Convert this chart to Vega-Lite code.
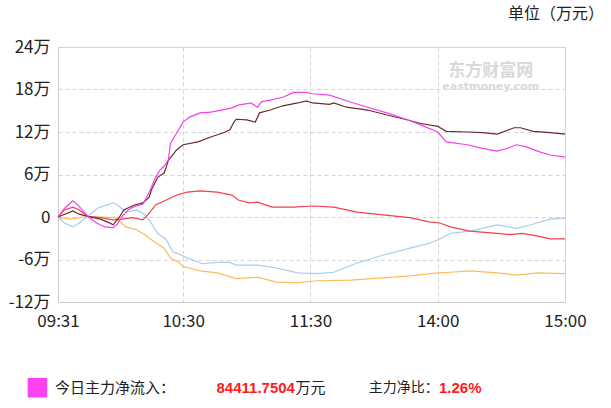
{
  "$schema": "https://vega.github.io/schema/vega-lite/v6.json",
  "width": 507,
  "height": 255,
  "autosize": {"type": "none"},
  "padding": {"left": 58, "top": 47, "right": 46, "bottom": 106},
  "config": {
    "font": "Noto Sans CJK SC",
    "view": {"stroke": "#d6d6d6"},
    "axis": {
      "domainColor": "#cccccc",
      "ticks": false,
      "grid": true,
      "gridColor": "#d4d4d4",
      "gridDash": [4, 3],
      "labelColor": "#222222",
      "labelFontSize": 17,
      "labelPadding": 8,
      "title": null
    }
  },
  "title": {
    "text": "单位（万元）",
    "anchor": "end",
    "frame": "group",
    "dx": 39,
    "offset": 16,
    "fontSize": 16,
    "fontWeight": "normal",
    "color": "#222222"
  },
  "layer": [
    {
      "data": {"values": [{"label": "东方财富网"}]},
      "mark": {"type": "text", "fontSize": 17, "fontWeight": "bold", "color": "#d9d9d9"},
      "encoding": {"x": {"datum": 205}, "y": {"datum": 20.6}, "text": {"field": "label"}}
    },
    {
      "data": {"values": [{"label": "eastmoney.com"}]},
      "mark": {"type": "text", "fontSize": 11, "fontWeight": "bold", "color": "#d9d9d9", "font": "DejaVu Sans"},
      "encoding": {"x": {"datum": 205}, "y": {"datum": 18.3}, "text": {"field": "label"}}
    },
    {
      "data": {"values": [
        {"s":"o","t":1,"v":-0.1},{"s":"o","t":7,"v":-0.3},{"s":"o","t":13,"v":0},{"s":"o","t":21,"v":0},{"s":"o","t":28,"v":-0.1},{"s":"o","t":33,"v":-1.4},{"s":"o","t":38,"v":-1.8},{"s":"o","t":42,"v":-2.5},{"s":"o","t":44,"v":-3.0},{"s":"o","t":48,"v":-3.8},{"s":"o","t":51,"v":-4.4},{"s":"o","t":54,"v":-5.8},{"s":"o","t":58,"v":-6.4},{"s":"o","t":60,"v":-7.0},{"s":"o","t":63,"v":-7.2},{"s":"o","t":68,"v":-7.6},{"s":"o","t":76,"v":-7.9},{"s":"o","t":85,"v":-8.7},{"s":"o","t":95,"v":-8.5},{"s":"o","t":104,"v":-9.2},{"s":"o","t":114,"v":-9.3},{"s":"o","t":123,"v":-9.0},{"s":"o","t":139,"v":-8.9},{"s":"o","t":154,"v":-8.6},{"s":"o","t":167,"v":-8.3},{"s":"o","t":180,"v":-7.9},{"s":"o","t":186,"v":-7.8},{"s":"o","t":195,"v":-7.6},{"s":"o","t":208,"v":-7.9},{"s":"o","t":217,"v":-8.2},{"s":"o","t":227,"v":-7.9},{"s":"o","t":240,"v":-8.0},
        {"s":"l","t":1,"v":0},{"s":"l","t":4,"v":-0.85},{"s":"l","t":8,"v":-1.4},{"s":"l","t":11,"v":-0.85},{"s":"l","t":15,"v":0.1},{"s":"l","t":20,"v":1.3},{"s":"l","t":27,"v":2.0},{"s":"l","t":29,"v":1.7},{"s":"l","t":33,"v":0.7},{"s":"l","t":38,"v":1.0},{"s":"l","t":41,"v":0.55},{"s":"l","t":44,"v":-0.4},{"s":"l","t":48,"v":-2.3},{"s":"l","t":52,"v":-3.2},{"s":"l","t":55,"v":-4.9},{"s":"l","t":57,"v":-5.1},{"s":"l","t":62,"v":-5.8},{"s":"l","t":65,"v":-6.1},{"s":"l","t":69,"v":-6.6},{"s":"l","t":76,"v":-6.4},{"s":"l","t":82,"v":-6.4},{"s":"l","t":85,"v":-6.8},{"s":"l","t":95,"v":-6.8},{"s":"l","t":104,"v":-7.2},{"s":"l","t":114,"v":-7.9},{"s":"l","t":123,"v":-8.0},{"s":"l","t":131,"v":-7.8},{"s":"l","t":142,"v":-6.5},{"s":"l","t":154,"v":-5.4},{"s":"l","t":167,"v":-4.4},{"s":"l","t":176,"v":-3.7},{"s":"l","t":181,"v":-3.1},{"s":"l","t":186,"v":-2.3},{"s":"l","t":195,"v":-2.0},{"s":"l","t":201,"v":-1.6},{"s":"l","t":208,"v":-1.1},{"s":"l","t":217,"v":-1.6},{"s":"l","t":224,"v":-1.1},{"s":"l","t":233,"v":-0.3},{"s":"l","t":240,"v":-0.15},
        {"s":"r","t":1,"v":0},{"s":"r","t":4,"v":1.0},{"s":"r","t":8,"v":1.4},{"s":"r","t":11,"v":1.0},{"s":"r","t":15,"v":0.1},{"s":"r","t":21,"v":-0.1},{"s":"r","t":27,"v":-0.4},{"s":"r","t":31,"v":-0.3},{"s":"r","t":36,"v":-0.1},{"s":"r","t":41,"v":-0.4},{"s":"r","t":44,"v":0.55},{"s":"r","t":47,"v":1.7},{"s":"r","t":52,"v":2.4},{"s":"r","t":57,"v":3.1},{"s":"r","t":62,"v":3.5},{"s":"r","t":68,"v":3.7},{"s":"r","t":76,"v":3.5},{"s":"r","t":83,"v":3.1},{"s":"r","t":86,"v":2.4},{"s":"r","t":91,"v":2.0},{"s":"r","t":95,"v":2.1},{"s":"r","t":102,"v":1.4},{"s":"r","t":112,"v":1.4},{"s":"r","t":121,"v":1.55},{"s":"r","t":131,"v":1.4},{"s":"r","t":142,"v":0.7},{"s":"r","t":154,"v":0.3},{"s":"r","t":167,"v":-0.1},{"s":"r","t":176,"v":-0.7},{"s":"r","t":181,"v":-0.85},{"s":"r","t":186,"v":-1.4},{"s":"r","t":195,"v":-2.0},{"s":"r","t":208,"v":-2.3},{"s":"r","t":214,"v":-2.5},{"s":"r","t":220,"v":-2.3},{"s":"r","t":227,"v":-2.7},{"s":"r","t":233,"v":-3.1},{"s":"r","t":240,"v":-3.1},
        {"s":"b","t":1,"v":0},{"s":"b","t":8,"v":0.85},{"s":"b","t":11,"v":0.4},{"s":"b","t":15,"v":0.1},{"s":"b","t":21,"v":-0.3},{"s":"b","t":25,"v":-0.8},{"s":"b","t":27,"v":-1.1},{"s":"b","t":30,"v":0},{"s":"b","t":32,"v":1.0},{"s":"b","t":37,"v":1.7},{"s":"b","t":41,"v":2.0},{"s":"b","t":44,"v":2.8},{"s":"b","t":45,"v":3.8},{"s":"b","t":48,"v":5.6},{"s":"b","t":51,"v":6.2},{"s":"b","t":52,"v":7.0},{"s":"b","t":53,"v":8.0},{"s":"b","t":57,"v":9.5},{"s":"b","t":60,"v":10.2},{"s":"b","t":67,"v":10.6},{"s":"b","t":73,"v":11.3},{"s":"b","t":79,"v":11.9},{"s":"b","t":82,"v":12.3},{"s":"b","t":84,"v":13.4},{"s":"b","t":85,"v":13.8},{"s":"b","t":90,"v":13.7},{"s":"b","t":94,"v":13.4},{"s":"b","t":96,"v":14.7},{"s":"b","t":101,"v":15.1},{"s":"b","t":107,"v":15.7},{"s":"b","t":114,"v":16.1},{"s":"b","t":118,"v":16.4},{"s":"b","t":121,"v":16.1},{"s":"b","t":129,"v":15.9},{"s":"b","t":131,"v":16.1},{"s":"b","t":137,"v":15.5},{"s":"b","t":147,"v":15.1},{"s":"b","t":156,"v":14.4},{"s":"b","t":166,"v":13.7},{"s":"b","t":172,"v":13.2},{"s":"b","t":180,"v":12.8},{"s":"b","t":184,"v":12.1},{"s":"b","t":194,"v":12.0},{"s":"b","t":201,"v":11.9},{"s":"b","t":208,"v":11.7},{"s":"b","t":216,"v":12.6},{"s":"b","t":219,"v":12.6},{"s":"b","t":225,"v":12.1},{"s":"b","t":233,"v":11.9},{"s":"b","t":240,"v":11.7},
        {"s":"m","t":1,"v":0},{"s":"m","t":4,"v":1.2},{"s":"m","t":8,"v":2.3},{"s":"m","t":11,"v":1.5},{"s":"m","t":15,"v":0.1},{"s":"m","t":19,"v":-0.8},{"s":"m","t":23,"v":-1.4},{"s":"m","t":27,"v":-1.5},{"s":"m","t":29,"v":-1.0},{"s":"m","t":31,"v":0},{"s":"m","t":34,"v":1.0},{"s":"m","t":37,"v":1.5},{"s":"m","t":41,"v":1.8},{"s":"m","t":44,"v":3.5},{"s":"m","t":47,"v":5.6},{"s":"m","t":49,"v":6.6},{"s":"m","t":51,"v":7.2},{"s":"m","t":53,"v":8.0},{"s":"m","t":54,"v":10.4},{"s":"m","t":57,"v":11.9},{"s":"m","t":60,"v":13.4},{"s":"m","t":63,"v":14.1},{"s":"m","t":68,"v":14.7},{"s":"m","t":73,"v":14.8},{"s":"m","t":78,"v":15.1},{"s":"m","t":83,"v":15.4},{"s":"m","t":86,"v":15.8},{"s":"m","t":92,"v":16.1},{"s":"m","t":95,"v":15.5},{"s":"m","t":97,"v":16.3},{"s":"m","t":101,"v":16.5},{"s":"m","t":107,"v":16.9},{"s":"m","t":112,"v":17.6},{"s":"m","t":118,"v":17.6},{"s":"m","t":121,"v":17.4},{"s":"m","t":129,"v":17.2},{"s":"m","t":138,"v":16.3},{"s":"m","t":147,"v":15.5},{"s":"m","t":156,"v":14.7},{"s":"m","t":166,"v":13.7},{"s":"m","t":172,"v":13.0},{"s":"m","t":180,"v":12.0},{"s":"m","t":184,"v":10.6},{"s":"m","t":194,"v":10.2},{"s":"m","t":201,"v":9.7},{"s":"m","t":208,"v":9.3},{"s":"m","t":213,"v":9.7},{"s":"m","t":217,"v":10.2},{"s":"m","t":222,"v":9.9},{"s":"m","t":228,"v":9.2},{"s":"m","t":233,"v":8.75},{"s":"m","t":240,"v":8.44}
      ]},
      "mark": {"type": "line", "strokeWidth": 1.2},
      "encoding": {
        "x": {
          "field": "t",
          "type": "quantitative",
          "scale": {"domain": [1, 240], "nice": false, "zero": false},
          "axis": {
            "values": [1, 60, 120, 180, 240],
            "labelExpr": "datum.value == 1 ? '09:31' : datum.value == 60 ? '10:30' : datum.value == 120 ? '11:30' : datum.value == 180 ? '14:00' : '15:00'",
            "labelFlush": false,
            "labelPadding": 11
          }
        },
        "y": {
          "field": "v",
          "type": "quantitative",
          "scale": {"domain": [-12, 24], "nice": false, "zero": false},
          "axis": {
            "values": [-12, -6, 0, 6, 12, 18, 24],
            "labelExpr": "datum.value == 0 ? '0' : datum.value + '万'"
          }
        },
        "color": {
          "field": "s",
          "type": "nominal",
          "scale": {"domain": ["m", "b", "r", "l", "o"], "range": ["#f440ec", "#6e2a2a", "#f2404e", "#a6cdf2", "#fbbd5a"]},
          "legend": null
        },
        "order": {"field": "t", "type": "quantitative"}
      }
    },
    {
      "data": {"values": [{"label": "今日主力净流入"}]},
      "mark": {"type": "square", "size": 380, "filled": true, "opacity": 1, "color": "#ff40f0"},
      "encoding": {"x": {"datum": -8.7}, "y": {"datum": -24.1}}
    },
    {
      "data": {"values": [{"label": "今日主力净流入："}]},
      "mark": {"type": "text", "align": "left", "baseline": "middle", "fontSize": 15, "color": "#222222"},
      "encoding": {"x": {"datum": -0.4}, "y": {"datum": -24.1}, "text": {"field": "label"}}
    },
    {
      "data": {"values": [{"label": "84411.7504"}]},
      "mark": {"type": "text", "align": "right", "baseline": "middle", "fontSize": 15, "fontWeight": "bold", "font": "Liberation Sans", "color": "#ff1a1a"},
      "encoding": {"x": {"datum": 112.7}, "y": {"datum": -24.1}, "text": {"field": "label"}}
    },
    {
      "data": {"values": [{"label": "万元"}]},
      "mark": {"type": "text", "align": "left", "baseline": "middle", "fontSize": 15, "color": "#222222"},
      "encoding": {"x": {"datum": 112.9}, "y": {"datum": -24.1}, "text": {"field": "label"}}
    },
    {
      "data": {"values": [{"label": "主力净比："}]},
      "mark": {"type": "text", "align": "right", "baseline": "middle", "fontSize": 14, "color": "#222222"},
      "encoding": {"x": {"datum": 180.5}, "y": {"datum": -24.1}, "text": {"field": "label"}}
    },
    {
      "data": {"values": [{"label": "1.26%"}]},
      "mark": {"type": "text", "align": "left", "baseline": "middle", "fontSize": 15, "fontWeight": "bold", "font": "Liberation Sans", "color": "#ff1a1a"},
      "encoding": {"x": {"datum": 180.6}, "y": {"datum": -24.1}, "text": {"field": "label"}}
    }
  ]
}
